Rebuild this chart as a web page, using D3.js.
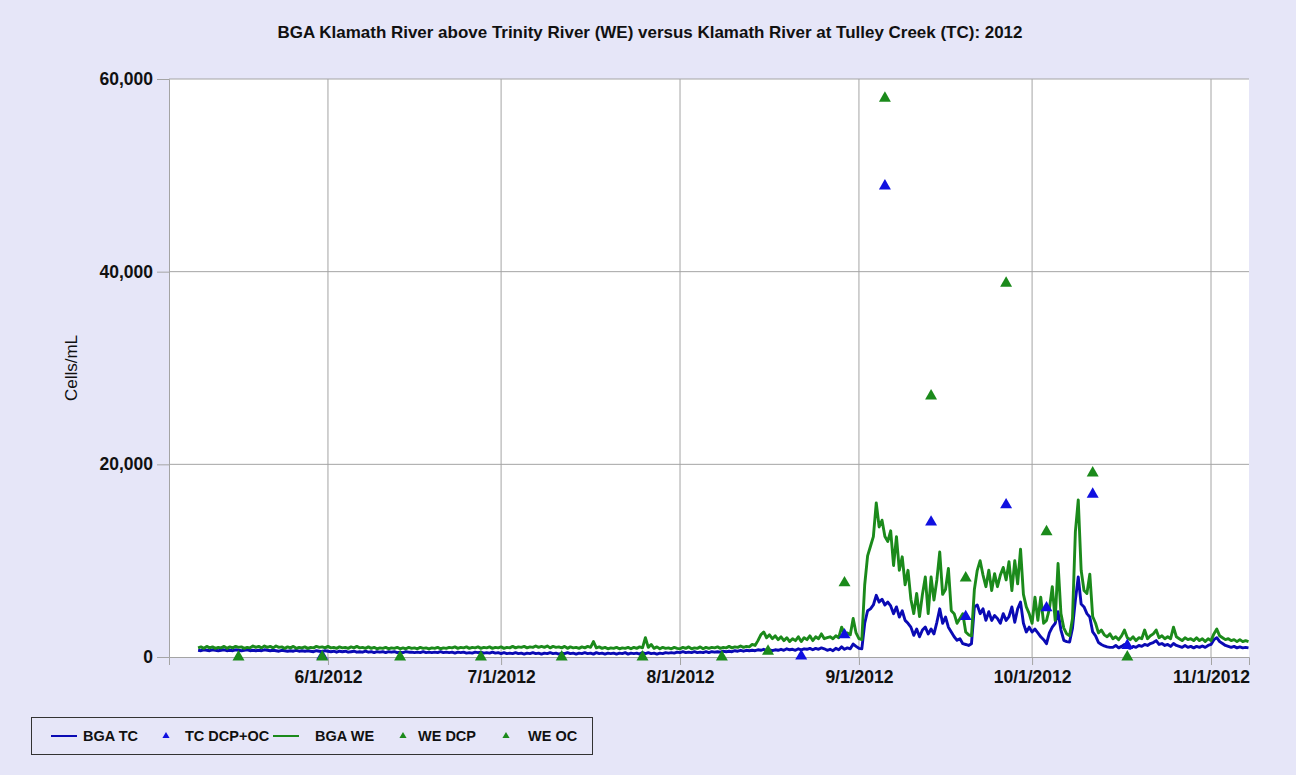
<!DOCTYPE html>
<html>
<head>
<meta charset="utf-8">
<script src="https://cdn.jsdelivr.net/npm/d3@7"></script>
<style>
  html, body { margin: 0; padding: 0; background: #e6e6f8; }
  svg { display: block; }
  text { font-family: "Liberation Sans", Arial, sans-serif; fill: #111; }
</style>
</head>
<body>
<svg id="chart" width="1296" height="775"></svg>
<script>
// ---------------- DATA ----------------
const title = "BGA Klamath River above Trinity River (WE) versus Klamath River at Tulley Creek (TC): 2012";
const yLabel = "Cells/mL";
const yTicks = [0, 20000, 40000, 60000];
const xTickDates = [[2012,5,1],[2012,6,1],[2012,7,1],[2012,8,1],[2012,9,1],[2012,10,1]]; // month index 0-based
const xTickLabels = ["6/1/2012","7/1/2012","8/1/2012","9/1/2012","10/1/2012","11/1/2012"];
const legendLabels = ["BGA TC","TC DCP+OC","BGA WE","WE DCP","WE OC"];

// Continuous sonde records, one value every 12 hours, grouped by month.
const weMay = [950,1050,900,1100,950,1050,900,1000,950,1100,
  900,1050,950,1100,1000,1050,900,1000,950,1150,
  1000,1100,950,1150,1000,1100,950,1150,1000,1050,
  900,1050,950,1100,900,1000,950,1050,900,1000,
  950,1100,1000,1050,950];
const weJun = [1100,950,1000,900,1050,950,1000,900,1050,950,
  1100,950,1000,900,1050,900,1000,850,950,900,
  1000,850,950,900,1000,850,950,850,1000,900,
  950,850,1000,900,950,850,950,900,1000,850,
  950,900,1000,950,1050,900,1000,950,1050,900,
  1000,950,1050,900,1000,950,1050,900,1000,950];
const weJul = [1050,900,1000,950,1100,950,1050,1000,1100,950,
  1050,1000,1150,1000,1100,1000,1150,950,1100,1000,
  1050,950,1100,900,1050,950,1000,900,1050,950,
  1100,1000,1600,950,1050,900,1000,850,950,900,
  1000,850,950,900,1000,850,1000,900,1050,950,
  2000,1000,1300,900,1050,850,1000,900,950,850,
  1000,900];
const weAug = [850,1000,900,1050,850,950,900,1050,850,1000,
  900,1000,950,1050,900,1000,950,1100,950,1050,
  1000,1150,1000,1100,1050,1300,1200,1700,2300,2600,
  2000,2300,1900,2200,1800,2100,1700,2000,1600,1900,
  1700,2100,1600,2000,1800,2200,1700,2100,1900,2400,
  1900,2000,2100,1900,2200,2000,3100,2400,2500,2300,
  4000,2500];
const weSep = [1900,1800,7500,10500,11500,12500,16000,13500,14200,12500,
  12000,13100,9500,12500,9000,10400,7500,9000,6000,4500,
  6600,4200,6500,8300,4500,8300,5900,8000,10900,6500,
  7000,9200,4800,4500,3500,4000,4500,2600,2300,2200,
  7000,9000,10000,8500,7300,9000,6900,8650,7300,8500,
  9300,8000,9900,6900,10000,7600,11200,6500,5200,4500];
const weOct = [3500,6200,3800,6200,3500,3800,5000,7300,3800,9700,
  4500,3000,2400,2200,4000,13000,16300,9000,6900,6600,
  8600,4200,3500,2500,2800,2300,2100,2400,1900,2100,
  1800,2200,2800,2000,1800,2100,1700,2000,1900,2800,
  1900,2200,2400,2800,2000,2200,1900,2100,1900,3100,
  2100,1900,1700,2000,1800,1900,1700,2000,1700,1900,
  1600,1900];
const weNov = [1700,2400,2900,2200,2000,1800,1900,1700,1800,1600,1800,1600,1700,1600];

const tcMay = [700,650,750,700,650,750,700,650,700,750,
  650,700,650,750,700,650,700,750,650,700,
  650,700,650,750,700,650,700,650,600,700,
  650,600,650,600,700,600,650,600,650,600,
  550,650,600,550,650];
const tcJun = [600,550,600,500,600,550,600,500,550,600,
  500,550,500,600,500,550,450,550,500,550,
  450,550,500,550,450,500,450,550,500,500,
  450,500,450,550,450,500,450,500,450,550,
  450,500,450,500,400,500,450,500,400,450,
  400,500,450,500,400,450,400,500,400,450];
const tcJul = [350,450,350,400,350,450,350,400,300,400,
  350,450,350,400,300,400,350,450,350,400,
  300,400,350,450,350,400,300,400,350,450,
  350,400,300,450,350,400,300,400,350,400,
  300,400,350,450,300,400,350,400,300,450,
  350,450,350,400,300,400,350,450,400,450,
  400,500];
const tcAug = [450,550,450,500,450,550,450,500,450,550,
  450,550,500,550,500,600,550,600,550,650,
  600,700,600,700,650,700,650,750,700,800,
  700,750,650,750,700,800,700,850,750,800,
  700,850,750,850,800,900,750,900,800,950,
  850,700,800,650,900,750,1050,800,950,850,
  1350,1100];
const tcSep = [900,850,3500,4800,5000,5400,6400,5700,6000,5400,
  5700,5300,4500,5200,4150,4800,3800,3500,3100,2250,
  2900,2100,2800,3100,2400,2900,2400,3600,5000,3500,
  4150,3100,2600,2100,1730,1900,1380,1300,1200,1380,
  5200,5400,4500,5000,3800,4700,3800,4300,4000,3500,
  4500,3800,4200,5200,3600,5000,5700,3500,2600,3100];
const tcOct = [2600,2900,2500,2100,1800,1380,2500,3100,3500,4700,
  2800,1730,1600,1560,3000,5900,8300,5500,5200,4500,
  4150,2600,2200,1500,1300,1150,1050,1000,1000,1200,
  950,1100,1300,1000,900,1100,1000,1200,1100,1300,
  1200,1400,1500,1700,1300,1400,1200,1300,1100,1400,
  1200,1100,1000,1200,1000,1100,950,1100,1000,1150,
  1000,1200];
const tcNov = [1300,1800,2000,1600,1400,1200,1100,1000,1100,950,1050,950,1000,950];

const monthStarts = [[2012,4,9,12],[2012,5,1,0],[2012,6,1,0],[2012,7,1,0],[2012,8,1,0],[2012,9,1,0],[2012,10,1,0]];

// Grab samples: [month(1-based), day, hour, value]
const tcDcpOc = [[5,31,0,100],[8,22,0,100],[8,29,12,2300],[9,5,12,48900],[9,13,12,14000],
  [9,19,12,4200],[9,26,12,15800],[10,3,12,5100],[10,11,12,16900],[10,17,12,1200]];
const weDcp = [[5,16,12,0],[5,31,0,0],[6,13,12,0],[6,27,12,0],[7,11,12,0],[7,25,12,0],
  [8,8,6,0],[8,16,6,600],[10,17,12,0]];
const weOc = [[8,29,12,7700],[9,5,12,58000],[9,13,12,27100],[9,19,12,8200],[9,26,12,38800],
  [10,3,12,13000],[10,11,12,19100]];

// ---------------- BUILD ----------------
function series(blocks) {
  const out = [];
  blocks.forEach((vals, bi) => {
    const [y, m, d, h] = monthStarts[bi];
    vals.forEach((v, k) => out.push({ date: new Date(y, m, d, h + 12 * k), value: v }));
  });
  return out;
}
const tcSeries = series([tcMay, tcJun, tcJul, tcAug, tcSep, tcOct, tcNov]);
const weSeries = series([weMay, weJun, weJul, weAug, weSep, weOct, weNov]);
const pts = arr => arr.map(([m, d, h, v]) => ({ date: new Date(2012, m - 1, d, h), value: v }));

const BG = "#e6e6f8";
const BLUE = "#0a0ab4";
const GREEN = "#1b8a1b";
const TRI_BLUE = "#1010e0";
const TRI_GREEN = "#1b8a1b";
const GRID = "#a4a4a4";

const svg = d3.select("#chart");
svg.append("rect").attr("width", 1296).attr("height", 775).attr("fill", BG);

const M = { left: 169, right: 1249, top: 79, bottom: 657 };
const x = d3.scaleTime()
  .domain([new Date(2012, 4, 4, 11), new Date(2012, 10, 7, 14)])
  .range([M.left, M.right]);
const y = d3.scaleLinear().domain([0, 60000]).range([M.bottom, M.top]);

svg.append("rect").attr("x", M.left).attr("y", M.top)
  .attr("width", M.right - M.left).attr("height", M.bottom - M.top).attr("fill", "#ffffff");

svg.append("text").attr("x", 650).attr("y", 38).attr("text-anchor", "middle")
  .attr("font-size", 16.5).attr("font-weight", "bold")
  .attr("textLength", 745).attr("lengthAdjust", "spacingAndGlyphs")
  .text(title);

const yAxis = d3.axisLeft(y).tickValues(yTicks)
  .tickFormat(d3.format(",")).tickSize(12).tickPadding(4);
const gy = svg.append("g").attr("transform", `translate(${M.left},0)`).call(yAxis);
gy.select(".domain").attr("stroke", GRID);
gy.selectAll(".tick line").attr("stroke", GRID);
gy.selectAll(".tick text").attr("font-size", 17.5).attr("font-weight", "bold")
  .attr("font-family", '"Liberation Sans", Arial, sans-serif').attr("fill", "#111");
svg.append("g").selectAll("line").data(yTicks.filter(v => v > 0)).join("line")
  .attr("x1", M.left).attr("x2", M.right)
  .attr("y1", d => y(d)).attr("y2", d => y(d))
  .attr("stroke", GRID).attr("stroke-width", 1);

const xDates = xTickDates.map(([yy, m, d]) => new Date(yy, m, d));
const xAxis = d3.axisBottom(x).tickValues(xDates)
  .tickFormat((d, i) => xTickLabels[i]).tickSize(8).tickPadding(6);
const gx = svg.append("g").attr("transform", `translate(0,${M.bottom})`).call(xAxis);
gx.select(".domain").attr("stroke", GRID);
gx.selectAll(".tick line").attr("stroke", GRID);
gx.selectAll(".tick text").attr("font-size", 17.5).attr("font-weight", "bold")
  .attr("font-family", '"Liberation Sans", Arial, sans-serif').attr("fill", "#111");
svg.append("g").selectAll("line").data(xDates).join("line")
  .attr("x1", d => x(d)).attr("x2", d => x(d))
  .attr("y1", M.top).attr("y2", M.bottom)
  .attr("stroke", GRID).attr("stroke-width", 1);

svg.append("text").attr("transform", "translate(77,368) rotate(-90)")
  .attr("text-anchor", "middle").attr("font-size", 17).text(yLabel);

const line = d3.line().x(d => x(d.date)).y(d => y(d.value));
svg.append("path").datum(tcSeries).attr("d", line).attr("fill", "none")
  .attr("stroke", BLUE).attr("stroke-width", 2.9).attr("stroke-linejoin", "round");
svg.append("path").datum(weSeries).attr("d", line).attr("fill", "none")
  .attr("stroke", GREEN).attr("stroke-width", 2.9).attr("stroke-linejoin", "round");

const tri = d3.symbol().type(d3.symbolTriangle).size(62);
function drawPts(data, color) {
  svg.append("g").selectAll("path").data(data).join("path")
    .attr("d", tri)
    .attr("transform", d => `translate(${x(d.date)},${y(d.value)})`)
    .attr("fill", color);
}
drawPts(pts(tcDcpOc), TRI_BLUE);
drawPts(pts(weDcp), TRI_GREEN);
drawPts(pts(weOc), TRI_GREEN);

const lg = svg.append("g");
lg.append("rect").attr("x", 31.5).attr("y", 717.5).attr("width", 561).attr("height", 37)
  .attr("fill", BG).attr("stroke", "#333").attr("stroke-width", 1);
const legendItems = [
  { label: legendLabels[0], type: "line", color: BLUE, mx: 51, tx: 83 },
  { label: legendLabels[1], type: "tri", color: TRI_BLUE, mx: 166, tx: 185 },
  { label: legendLabels[2], type: "line", color: GREEN, mx: 273, tx: 315 },
  { label: legendLabels[3], type: "tri", color: TRI_GREEN, mx: 403, tx: 418 },
  { label: legendLabels[4], type: "tri", color: TRI_GREEN, mx: 506, tx: 528 }
];
const ly = 736;
legendItems.forEach(it => {
  if (it.type === "line") {
    lg.append("line").attr("x1", it.mx).attr("x2", it.mx + 26).attr("y1", ly).attr("y2", ly)
      .attr("stroke", it.color).attr("stroke-width", 2);
  } else {
    lg.append("path").attr("d", d3.symbol().type(d3.symbolTriangle).size(22)())
      .attr("transform", `translate(${it.mx},${ly})`).attr("fill", it.color);
  }
  lg.append("text").attr("x", it.tx).attr("y", ly + 5).attr("font-size", 14.5)
    .attr("font-weight", "bold").text(it.label);
});
</script>
</body>
</html>
